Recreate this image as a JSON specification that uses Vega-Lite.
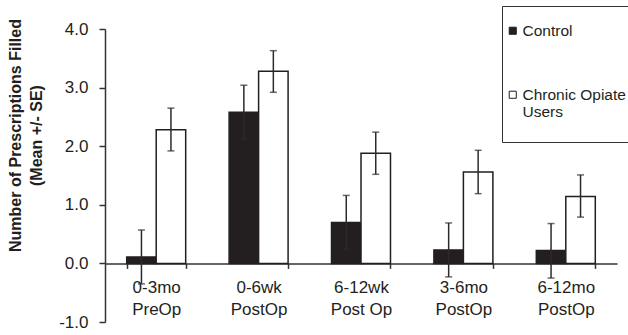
{
  "$schema": "https://vega.github.io/schema/vega-lite/v6.json",
  "width": 512,
  "height": 293,
  "autosize": {"type": "none"},
  "padding": {"left": 105, "top": 29, "right": 11, "bottom": 13},
  "background": "white",
  "config": {
    "font": "Liberation Sans",
    "view": {"stroke": null},
    "axis": {"grid": false, "domainColor": "#333333", "tickColor": "#333333", "labelColor": "#231f20", "titleColor": "#231f20", "domainWidth": 1.5, "tickWidth": 1.5}
  },
  "data": {
    "values": [
      {"period": "0-3mo PreOp", "group": "Control", "mean": 0.11, "lo": -0.35, "hi": 0.57},
      {"period": "0-3mo PreOp", "group": "Chronic Opiate Users", "mean": 2.28, "lo": 1.92, "hi": 2.65},
      {"period": "0-6wk PostOp", "group": "Control", "mean": 2.58, "lo": 2.12, "hi": 3.04},
      {"period": "0-6wk PostOp", "group": "Chronic Opiate Users", "mean": 3.28, "lo": 2.92, "hi": 3.63},
      {"period": "6-12wk Post Op", "group": "Control", "mean": 0.7, "lo": 0.24, "hi": 1.16},
      {"period": "6-12wk Post Op", "group": "Chronic Opiate Users", "mean": 1.88, "lo": 1.52, "hi": 2.24},
      {"period": "3-6mo PostOp", "group": "Control", "mean": 0.23, "lo": -0.23, "hi": 0.69},
      {"period": "3-6mo PostOp", "group": "Chronic Opiate Users", "mean": 1.56, "lo": 1.19, "hi": 1.93},
      {"period": "6-12mo PostOp", "group": "Control", "mean": 0.22, "lo": -0.25, "hi": 0.68},
      {"period": "6-12mo PostOp", "group": "Chronic Opiate Users", "mean": 1.14, "lo": 0.79, "hi": 1.51}
    ]
  },
  "encoding": {
    "x": {
      "field": "period",
      "type": "nominal",
      "sort": ["0-3mo PreOp", "0-6wk PostOp", "6-12wk Post Op", "3-6mo PostOp", "6-12mo PostOp"],
      "scale": {"paddingInner": 0.424, "paddingOuter": 0.212},
      "axis": {
        "title": null,
        "orient": "bottom",
        "offset": -58.6,
        "labelAngle": 0,
        "labelFontSize": 17,
        "labelLineHeight": 22,
        "labelBaseline": "top",
        "labelPadding": 11,
        "tickSize": 5,
        "tickBand": "extent",
        "labelExpr": "[slice(datum.label, 0, indexof(datum.label, ' ')), slice(datum.label, indexof(datum.label, ' ') + 1)]"
      }
    },
    "xOffset": {
      "field": "group",
      "type": "nominal",
      "sort": ["Control", "Chronic Opiate Users"],
      "scale": {"paddingInner": 0, "paddingOuter": 0}
    }
  },
  "layer": [
    {
      "mark": {"type": "bar", "stroke": "#231f20", "strokeWidth": 1.5},
      "encoding": {
        "y": {
          "field": "mean",
          "type": "quantitative",
          "scale": {"domain": [-1, 4], "nice": false},
          "axis": {
            "values": [-1, 0, 1, 2, 3, 4],
            "labelExpr": "replace(format(datum.value, '.1f'), '\u2212', '-')",
            "labelFontSize": 17,
            "tickSize": 6,
            "labelPadding": 11,
            "title": ["Number of Prescriptions Filled", "(Mean +/- SE)"],
            "titleFontSize": 16,
            "titleFontWeight": "bold",
            "titleLineHeight": 21,
            "titleAngle": 270,
            "titleAlign": "center",
            "titleBaseline": "top",
            "titleX": -98,
            "titleY": 106
          }
        },
        "fill": {
          "field": "group",
          "type": "nominal",
          "scale": {"domain": ["Control", "Chronic Opiate Users"], "range": ["#231f20", "#ffffff"]},
          "legend": {
            "orient": "none",
            "legendX": 397,
            "legendY": -23,
            "title": " ",
            "titleFontSize": 10,
            "titlePadding": 4,
            "strokeColor": "#333333",
            "fillColor": "white",
            "padding": 3,
            "symbolType": "square",
            "symbolSize": 50,
            "symbolStrokeColor": "#231f20",
            "symbolStrokeWidth": 1,
            "labelFontSize": 15.5,
            "labelColor": "#231f20",
            "labelLimit": 300,
            "labelOffset": 2,
            "rowPadding": 47,
            "labelExpr": "datum.label == 'Chronic Opiate Users' ? ['Chronic Opiate', 'Users', ''] : datum.label"
          }
        }
      }
    },
    {
      "mark": {"type": "rule", "color": "#2b2b2b", "strokeWidth": 1.5},
      "encoding": {
        "y": {"field": "lo", "type": "quantitative"},
        "y2": {"field": "hi"}
      }
    },
    {
      "mark": {"type": "tick", "color": "#2b2b2b", "thickness": 1.5, "size": 7, "orient": "horizontal"},
      "encoding": {"y": {"field": "lo", "type": "quantitative"}}
    },
    {
      "mark": {"type": "tick", "color": "#2b2b2b", "thickness": 1.5, "size": 7, "orient": "horizontal"},
      "encoding": {"y": {"field": "hi", "type": "quantitative"}}
    }
  ]
}
